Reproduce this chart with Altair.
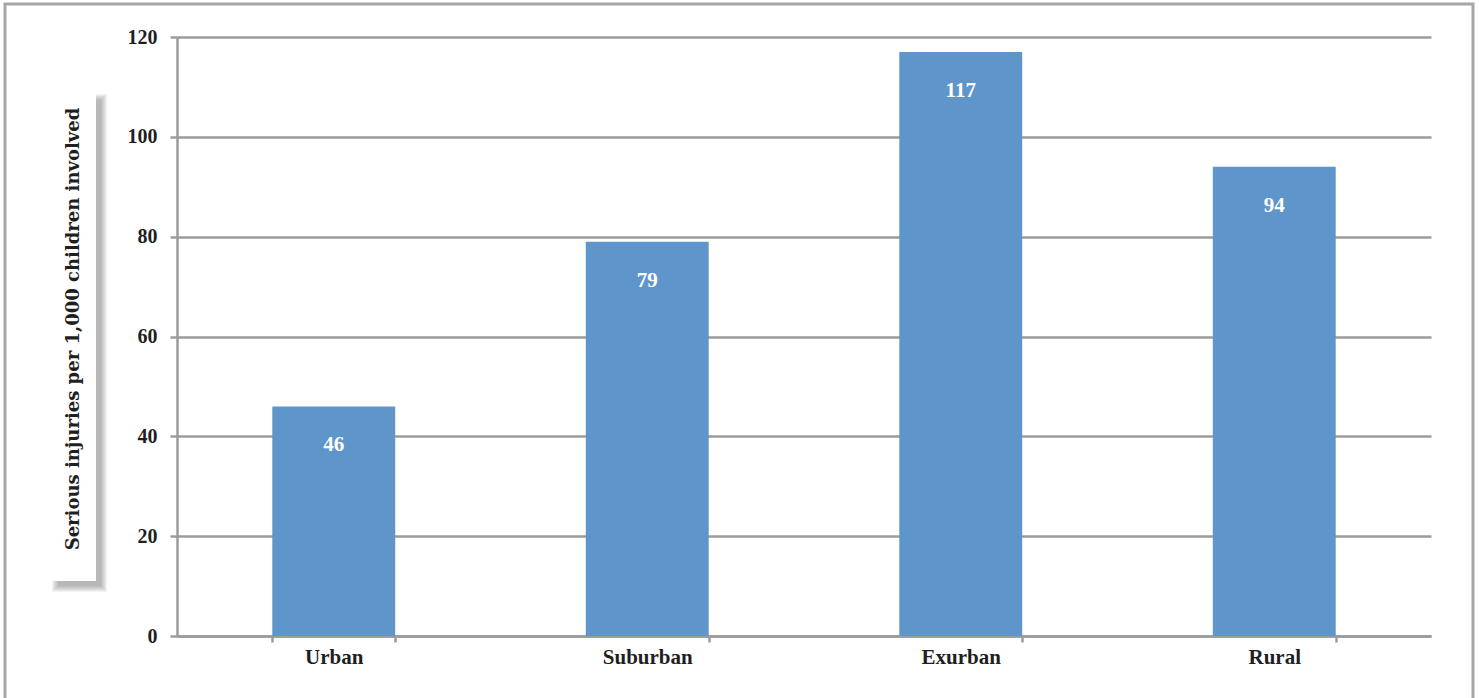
import altair as alt
import pandas as pd

# Serious injuries per 1,000 children involved, by area type
areas = ["Urban", "Suburban", "Exurban", "Rural"]
injury_rates = [46, 79, 117, 94]
y_ticks = [0, 20, 40, 60, 80, 100, 120]

FONT = "Liberation Serif"
TITLE_FONT = "DejaVu Serif"
TEXT = "#1f1f1f"
GRID = "#9b9b9b"
BAR = "#5e95ca"

W, H = 1254, 599          # plot area
LEFT, TOP = 177, 37       # padding in front of the plot area

df = pd.DataFrame({"area": areas, "rate": injury_rates})
one = pd.DataFrame({"k": [0]})

x_enc = alt.X(
    "area:N",
    sort=areas,
    title=None,
    scale=alt.Scale(paddingInner=0.608, paddingOuter=0.304),
    axis=alt.Axis(
        labelAngle=0, labelFont=FONT, labelFontSize=21, labelFontWeight="bold",
        labelColor=TEXT, labelPadding=4, tickBand="extent", tickSize=6,
        tickColor=GRID, tickWidth=2.5, domainColor=GRID, domainWidth=2.5,
    ),
)
y_enc = alt.Y(
    "rate:Q",
    title=None,
    scale=alt.Scale(domain=[0, 120], nice=False),
    axis=alt.Axis(
        values=y_ticks, labelFont=FONT, labelFontSize=20, labelFontWeight="bold",
        labelColor=TEXT, labelPadding=13, tickSize=7, tickColor=GRID, tickWidth=2.5,
        domainColor=GRID, domainWidth=2.5, grid=True, gridColor=GRID, gridWidth=2.5,
    ),
)

bars = alt.Chart(df).mark_bar(color=BAR).encode(x=x_enc, y=y_enc)

values = alt.Chart(df).mark_text(
    font=FONT, fontSize=21, fontWeight="bold", color="white",
    baseline="middle", dy=39,
).encode(x=alt.X("area:N", sort=areas), y="rate:Q", text="rate:Q")

# outer frame around the whole figure
frame = alt.Chart(one).mark_rect(
    fill=None, stroke="#a6a6a6", strokeWidth=3
).encode(
    x=alt.value(5 - LEFT), x2=alt.value(1473 - LEFT),
    y=alt.value(4 - TOP), y2=alt.value(720 - TOP),
)

# boxed axis title with a soft drop shadow
bx0, bx1, by0, by1 = 50 - LEFT, 96 - LEFT, 92 - TOP, 581 - TOP
shadow_layers = []
for grow in range(7, 0, -1):
    shadow_layers.append(
        alt.Chart(one).mark_rect(fill="#444444", opacity=0.065).encode(
            x=alt.value(bx0 + 9 - grow), x2=alt.value(bx1 + 4 + grow),
            y=alt.value(by0 + 9 - grow), y2=alt.value(by1 + 4 + grow),
        )
    )
box = alt.Chart(one).mark_rect(fill="white").encode(
    x=alt.value(bx0), x2=alt.value(bx1), y=alt.value(by0), y2=alt.value(by1),
)
title = alt.Chart(one).mark_text(
    text="Serious injuries per 1,000 children involved",
    font=TITLE_FONT, fontSize=18, fontWeight="bold", color=TEXT,
    angle=270, align="center", baseline="middle",
).encode(x=alt.value((bx0 + bx1) / 2 + 1), y=alt.value(329 - TOP))

chart = alt.layer(
    frame, *shadow_layers, box, title, bars, values
).properties(
    width=W, height=H,
    autosize=alt.AutoSizeParams(type="none"),
    padding={"left": LEFT, "top": TOP, "right": 1479 - LEFT - W, "bottom": 698 - TOP - H},
    background="white",
).configure_view(stroke=None)

chart.save("out.html", embed_options={"renderer": "svg", "actions": False})
